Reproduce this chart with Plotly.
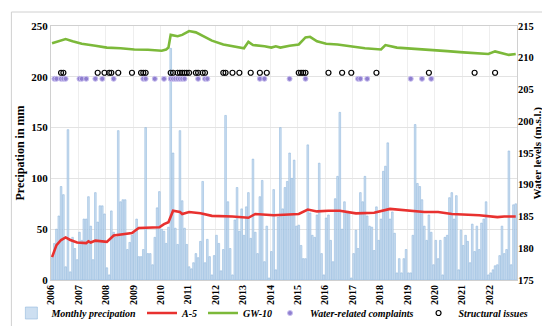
import pandas as pd
import plotly.graph_objects as go

# Monthly precipitation (mm), Jan 2006 .. Dec 2022
precip_2006 = [22, 36, 50, 63, 92, 84, 13, 148, 8, 42, 31, 20]
precip_2007 = [47, 39, 60, 60, 82, 53, 20, 86, 57, 73, 73, 65]
precip_2008 = [12, 5, 68, 47, 42, 147, 77, 79, 79, 30, 37, 44]
precip_2009 = [46, 60, 23, 23, 30, 150, 26, 26, 15, 42, 71, 87]
precip_2010 = [50, 48, 36, 52, 228, 125, 51, 35, 147, 78, 51, 35]
precip_2011 = [13, 11, 17, 26, 22, 38, 97, 17, 40, 23, 5, 24]
precip_2012 = [44, 36, 9, 30, 162, 77, 31, 5, 59, 91, 48, 70]
precip_2013 = [44, 72, 86, 41, 119, 47, 26, 82, 98, 18, 53, 2]
precip_2014 = [28, 89, 10, 62, 150, 70, 91, 97, 125, 100, 118, 53]
precip_2015 = [54, 34, 21, 21, 133, 66, 44, 42, 64, 115, 26, 5]
precip_2016 = [61, 64, 39, 18, 80, 102, 165, 50, 77, 66, 66, 2]
precip_2017 = [26, 49, 31, 86, 77, 102, 63, 53, 52, 29, 72, 39]
precip_2018 = [60, 107, 112, 135, 60, 67, 46, 7, 21, 7, 21, 30]
precip_2019 = [7, 7, 44, 153, 95, 92, 79, 53, 39, 64, 47, 15]
precip_2020 = [39, 21, 39, 5, 42, 44, 81, 86, 60, 83, 10, 49]
precip_2021 = [34, 44, 38, 17, 55, 28, 53, 30, 56, 60, 77, 5]
precip_2022 = [7, 10, 14, 15, 24, 53, 26, 30, 127, 15, 74, 75]
precip = (precip_2006 + precip_2007 + precip_2008 + precip_2009 + precip_2010 +
          precip_2011 + precip_2012 + precip_2013 + precip_2014 + precip_2015 +
          precip_2016 + precip_2017 + precip_2018 + precip_2019 + precip_2020 +
          precip_2021 + precip_2022)
months = pd.date_range("2006-01-01", periods=len(precip), freq="MS") + pd.Timedelta(days=14)
year_ticks = [str(y) for y in range(2006, 2023)]

# GW-10 water level (m.s.l.)
gw10_dates = ["2006-01", "2006-04", "2006-07", "2006-10", "2007-02", "2007-08", "2008-01",
              "2008-07", "2009-01", "2009-07", "2010-01", "2010-03", "2010-04", "2010-05",
              "2010-06", "2010-08", "2010-10", "2011-01", "2011-04", "2011-08", "2011-11",
              "2012-04", "2012-09", "2013-01", "2013-03", "2013-05", "2013-10", "2014-01",
              "2014-03", "2014-05", "2014-09", "2015-01", "2015-04", "2015-06", "2015-09",
              "2016-01", "2016-06", "2017-01", "2017-06", "2018-01", "2018-03", "2018-08",
              "2019-06", "2020-01", "2020-06", "2021-01", "2021-06", "2021-12", "2022-03",
              "2022-06", "2022-09", "2022-12"]
gw10_vals = [212.3, 212.6, 212.95, 212.6, 212.2, 211.9, 211.6,
             211.5, 211.3, 211.25, 211.1, 211.3, 211.6, 213.6,
             213.5, 213.4, 213.6, 214.2, 214.0, 213.2, 212.7,
             212.1, 211.8, 211.5, 212.5, 212.0, 211.8, 211.6,
             211.8, 211.6, 211.9, 212.1, 213.2, 213.3, 212.6,
             212.2, 212.1, 211.7, 211.5, 211.3, 212.0, 211.6,
             211.3, 211.1, 211.05, 210.85, 210.75, 210.6, 211.0,
             210.7, 210.45, 210.6]

# A-5 water level (m.s.l.)
a5_dates = ["2006-01", "2006-03", "2006-05", "2006-07", "2006-09", "2006-12", "2007-04",
            "2007-05", "2007-06", "2007-08", "2008-01", "2008-04", "2008-12", "2009-03",
            "2009-12", "2010-02", "2010-04", "2010-06", "2010-09", "2010-10", "2011-01",
            "2011-06", "2011-11", "2012-08", "2013-03", "2013-06", "2014-02", "2014-06",
            "2015-01", "2015-05", "2015-09", "2016-02", "2016-07", "2017-02", "2017-10",
            "2018-05", "2018-10", "2019-03", "2019-08", "2020-02", "2020-08", "2021-08",
            "2022-04", "2022-07", "2022-12"]
a5_vals = [178.6, 180.5, 181.3, 181.7, 181.3, 180.9, 180.8,
           181.1, 180.9, 181.2, 181.0, 182.0, 182.4, 183.2,
           183.3, 183.8, 184.1, 185.9, 185.7, 185.4, 185.7,
           185.5, 185.1, 185.0, 184.8, 185.4, 185.2, 185.3,
           185.4, 186.1, 185.8, 185.9, 185.9, 185.5, 185.6,
           186.2, 186.0, 185.9, 185.7, 185.7, 185.4, 185.2,
           184.9, 185.0, 185.0]

# Events
complaint_dates = ["2006-02", "2006-03", "2006-05", "2006-06", "2006-07", "2007-01", "2007-02",
                   "2007-04", "2007-08", "2007-11", "2008-04", "2009-05", "2009-06", "2009-10",
                   "2010-02", "2010-05", "2010-06", "2010-07", "2010-08", "2010-09", "2010-10",
                   "2010-11", "2011-05", "2011-08", "2011-09", "2013-08", "2013-10", "2014-09",
                   "2015-04", "2017-03", "2017-04", "2017-07", "2019-02", "2019-07", "2019-11"]
complaint_level = 198
structural_dates = ["2006-05", "2006-06", "2007-09", "2007-12", "2008-02", "2008-03", "2008-06",
                    "2008-12", "2009-04", "2009-05", "2009-06", "2010-05", "2010-06", "2010-08",
                    "2010-09", "2010-10", "2010-11", "2010-12", "2011-01", "2011-04", "2011-05",
                    "2011-07", "2011-08", "2012-04", "2012-05", "2012-08", "2012-11", "2013-04",
                    "2013-08", "2013-11", "2015-01", "2015-02", "2015-03", "2015-04", "2016-02",
                    "2016-08", "2016-12", "2017-11", "2019-10", "2021-06", "2022-03"]
structural_level = 204

serif = "Liberation Serif"
legend_font = dict(family=serif, size=10, weight="bold", style="italic")

def mid(ds):
    return [d + "-15" for d in ds]

fig = go.Figure()
fig.add_trace(go.Bar(x=months, y=precip, name="Monthly precipation",
                     marker=dict(color="rgba(200,220,240,0.9)",
                                 line=dict(color="rgba(140,180,220,0.9)", width=0.6)),
                     yaxis="y", legend="legend"))
fig.add_trace(go.Scatter(x=mid(a5_dates), y=a5_vals, name="A-5", mode="lines",
                         line=dict(color="#e8312f", width=2.6), yaxis="y2", legend="legend"))
fig.add_trace(go.Scatter(x=mid(gw10_dates), y=gw10_vals, name="GW-10", mode="lines",
                         line=dict(color="#7cb93a", width=2.6), yaxis="y2", legend="legend"))
fig.add_trace(go.Scatter(x=mid(complaint_dates), y=[complaint_level] * len(complaint_dates),
                         name="Water-related complaints", mode="markers",
                         marker=dict(color="#8f7fcf", size=5,
                                     line=dict(color="#c9bff0", width=1)),
                         yaxis="y", legend="legend2"))
fig.add_trace(go.Scatter(x=mid(structural_dates), y=[structural_level] * len(structural_dates),
                         name="Structural issues", mode="markers",
                         marker=dict(color="black", size=5, symbol="circle-open",
                                     line=dict(color="black", width=1.2)),
                         yaxis="y", legend="legend2"))

fig.update_layout(
    width=550, height=326,
    margin=dict(l=43, r=41, t=18, b=54, autoexpand=False),
    paper_bgcolor="white", plot_bgcolor="white",
    font=dict(family=serif, color="black", size=11),
    barmode="overlay", bargap=0.2,
    showlegend=True,
    legend=dict(orientation="h", x=-0.085, xanchor="left", y=-0.13, yanchor="middle",
                font=legend_font, tracegroupgap=0, bgcolor="rgba(0,0,0,0)"),
    legend2=dict(orientation="h", x=0.47, xanchor="left", y=-0.13, yanchor="middle",
                 font=legend_font, tracegroupgap=0, bgcolor="rgba(0,0,0,0)"),
    xaxis=dict(type="date", range=["2006-01-01", "2023-01-01"],
               tickvals=year_ticks, ticktext=year_ticks, tickangle=-90,
               tickfont=dict(family=serif, size=10, weight="bold"),
               showgrid=True, gridcolor="#eeeeee", gridwidth=1,
               showline=True, linecolor="#d0d0d0", linewidth=1, mirror=True,
               ticks=""),
    yaxis=dict(range=[0, 250], dtick=50,
               title=dict(text="Precipation in mm", font=dict(family=serif, size=12, weight="bold"),
                          standoff=4),
               tickfont=dict(family=serif, size=11, weight="bold"),
               showgrid=True, gridcolor="#e3e3e3", zeroline=False,
               showline=True, linecolor="#d0d0d0", linewidth=1, mirror=True, ticks=""),
    yaxis2=dict(range=[175, 215], dtick=5, overlaying="y", side="right",
                tickfont=dict(family=serif, size=10.5, weight="bold"),
                showgrid=False, zeroline=False, ticks=""),
)

fig.add_annotation(text="<b>Water levels (m.s.l.)</b>", xref="paper", yref="paper",
                   x=1.062, y=0.5, textangle=-90, showarrow=False,
                   font=dict(family=serif, size=11, color="black"))

fig.add_shape(type="rect", xref="paper", yref="paper",
              x0=-0.085, x1=1.074, y0=-0.19, y1=1.055,
              line=dict(color="#d0d0d0", width=1), fillcolor="rgba(0,0,0,0)", layer="below")

fig.write_html("out.html")
